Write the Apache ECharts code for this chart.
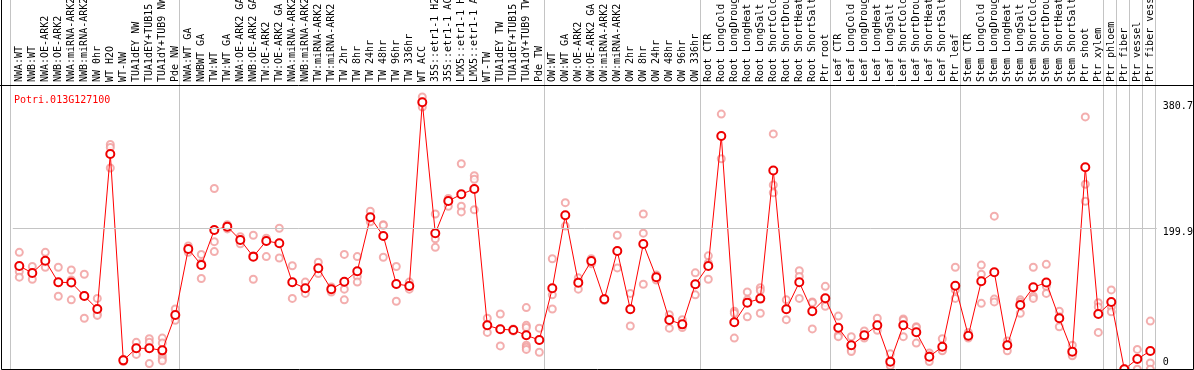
<!DOCTYPE html>
<html><head><meta charset="utf-8">
<script src="https://cdn.jsdelivr.net/npm/echarts@6/dist/echarts.min.js"></script>
<style>html,body{margin:0;padding:0;background:#fff}#c{width:1194px;height:370px}</style>
</head><body><div id="c"></div>
<script>
const geneName = 'Potri.013G127100';
const categories = [
 'NWA:WT','NWB:WT','NWA:OE-ARK2','NWB:OE-ARK2','NWA:miRNA-ARK2','NWB:miRNA-ARK2','NW 0hr','WT H2O','WT-NW','TUA1dEY NW','TUA1dEY+TUB15 NW','TUA1dY+TUB9 NW','Pde NW',
 'NWA:WT GA','NWBWT GA','TW:WT','TW:WT GA','NWA:OE-ARK2 GA','NWB:OE-ARK2 GA','TW:OE-ARK2','TW:OE-ARK2 GA','NWA:miRNA-ARK2','NWB:miRNA-ARK2','TW:miRNA-ARK2','TW:miRNA-ARK2',
 'TW 2hr','TW 8hr','TW 24hr','TW 48hr','TW 96hr','TW 336hr','WT ACC','35S::etr1-1 H2O','35S::etr1-1 ACC','LMX5::etr1-1 H2O','LMX5::etr1-1 ACC','WT-TW','TUA1dEY TW','TUA1dEY+TUB15 TW','TUA1dY+TUB9 TW','Pde TW',
 'OW:WT','OW:WT GA','OW:OE-ARK2','OW:OE-ARK2 GA','OW:miRNA-ARK2','OW:miRNA-ARK2','OW 2hr','OW 8hr','OW 24hr','OW 48hr','OW 96hr','OW 336hr',
 'Root CTR','Root LongCold','Root LongDrought','Root LongHeat','Root LongSalt','Root ShortCold','Root ShortDrought','Root ShortHeat','Root ShortSalt','Ptr root',
 'Leaf CTR','Leaf LongCold','Leaf LongDrought','Leaf LongHeat','Leaf LongSalt','Leaf ShortCold','Leaf ShortDrought','Leaf ShortHeat','Leaf ShortSalt','Ptr leaf',
 'Stem CTR','Stem LongCold','Stem LongDrought','Stem LongHeat','Stem LongSalt','Stem ShortCold','Stem ShortDrought','Stem ShortHeat','Stem ShortSalt','Ptr shoot','Ptr xylem',
 'Ptr phloem','Ptr fiber','Ptr vessel','Ptr fiber vessel'
];
// index of first category of each group (and the end)
const groupStarts = [0, 13, 41, 53, 63, 73, 84, 85, 86, 87, 88];
const meanValues = [
 146.7,136.9,154.2,123.7,123.3,104.4,86.1,304.7,13.6,30.6,30.6,27.7,77.6,
 170.7,148.1,197.5,202.2,183.4,159.9,182.0,178.7,123.7,115.2,143.5,113.9,
 124.6,139.4,215.4,189.1,121.3,118.5,377.6,192.8,238.4,247.8,255.4,63.0,57.4,56.4,48.9,42.3,
 115.2,218.3,123.2,153.8,99.7,167.8,85.6,177.8,130.8,70.5,64.4,120.9,
 146.7,330.1,67.3,95.0,100.7,281.5,85.6,123.7,82.8,101.1,
 59.7,34.8,48.9,63.0,11.8,63.0,53.2,18.8,32.9,118.9,
 48.4,125.1,137.8,34.8,91.7,116.7,123.3,72.9,25.9,285.9,79.0,
 95.9,1.0,15.5,26.8
];
const replicateValues = [
 [166,139,131],[146,137,128],[166,152,145],[145,123,104],[141,127,99],[135,105,73],[101,79,77],[318,314,285],[15,14,12],[39,31,22],[44,39,9],[45,38,27,20,16,13],[86,77,70],
 [175,171,166],[163,151,129],[256,181,167],[205,202,199],[188,184,178],[190,161,128],[186,182,160],[200,179,158],[147,124,101],[124,115,108],[152,143,136],[117,114,110],
 [163,114,99],[160,132,124],[224,213,209],[205,204,159],[146,121,97],[124,118,114],[385,378,371],[220,185,173],[242,238,231],[291,231,223],[274,269,226],[73,63,53],[79,58,34],[58,56,55],[88,63,60,35,32,29],[59,42,25],
 [157,106,86],[236,218,203],[130,124,114],[157,154,150],[101,100,98],[190,168,144],[108,86,62],[220,193,121],[134,131,127],[78,72,59],[71,64,60],[137,121,106],
 [161,151,128],[361,330,298],[83,80,45],[110,99,75],[116,112,80],[333,261,250],[99,86,71],[140,132,101],[96,95,58],[118,95,90],
 [76,49,47],[47,28,26],[55,48,45],[73,63,56],[23,8,6],[72,70,47],[61,60,38],[24,20,12],[44,28,27],[145,113,101],
 [53,48,45],[148,135,94],[217,100,96],[41,35,27],[99,96,80],[145,104,101],[149,118,108],[83,75,61],[35,22,20],[357,262,238],[95,89,53],
 [113,89,82],[2,1,0],[29,16,1],[69,10,1]
];
const yTickValues = [380.7, 199.9, 0];
const yTickLabels = ['380.7', '199.9', '0'];
const yMax = 402;

const FONT = 'DejaVu Sans Mono';
const repDataIdx = [];
replicateValues.forEach((arr, i) => arr.forEach(v => repDataIdx.push([i, v])));

const labelOffsets = [[0, 6], [0, 4], [0, -8]];
const markData = yTickValues.map((v, k) => ({
  yAxis: v,
  lineStyle: v === 199.9 ? {color: '#c4c4c4', width: 1, type: 'solid'} : {color: 'rgba(0,0,0,0)', width: 1},
  label: {show: true, position: 'end', distance: 6, offset: labelOffsets[k], formatter: yTickLabels[k],
          color: '#000', fontFamily: FONT, fontSize: 10, opacity: 1}
}));

const chart = echarts.init(document.getElementById('c'), null, {renderer: 'canvas'});
chart.setOption({
  animation: false,
  title: {text: geneName, left: 9, top: 90, textStyle: {color: '#ff0000', fontFamily: FONT, fontSize: 10, fontWeight: 'normal'}},
  grid: [
    {left: 10.3, top: 0, width: 1145.4, height: 370, containLabel: false, outerBoundsMode: 'none'},
    {left: 12.8, top: 85, width: 1144, height: 285, containLabel: false, outerBoundsMode: 'none'}
  ],
  xAxis: [
    {gridIndex: 0, type: 'category', data: categories.map((c, i) => i), boundaryGap: true,
     axisLine: {show: false}, axisTick: {show: false}, axisLabel: {show: false},
     splitLine: {show: true, interval: (i) => groupStarts.includes(i), lineStyle: {color: '#c4c4c4', width: 1}}},
    {gridIndex: 1, type: 'category', data: categories.map((c, i) => i), position: 'top', boundaryGap: true,
     axisLine: {show: false}, axisTick: {show: false}, splitLine: {show: false},
     axisLabel: {show: true, interval: 0, rotate: 90, margin: 3, color: '#000', fontFamily: FONT, fontSize: 10,
                 hideOverlap: false, formatter: (v) => categories[+v]}}
  ],
  yAxis: [
    {gridIndex: 0, type: 'value', min: 0, max: 1, show: false},
    {gridIndex: 1, type: 'value', min: 0, max: yMax, show: false}
  ],
  graphic: [
    {type: 'rect', shape: {x: 1.5, y: -5, width: 1192, height: 374.5}, style: {fill: null, stroke: '#000', lineWidth: 1}, silent: true, z: 100},
    {type: 'line', shape: {x1: 0, y1: 85.5, x2: 1194, y2: 85.5}, style: {stroke: '#000', lineWidth: 1}, silent: true, z: 100}
  ],
  series: [
    {type: 'scatter', xAxisIndex: 1, yAxisIndex: 1, data: repDataIdx, symbol: 'emptyCircle', symbolSize: 7,
     itemStyle: {color: '#f09a9a', borderWidth: 1.1}, z: 2, silent: true},
    {type: 'line', xAxisIndex: 1, yAxisIndex: 1, data: meanValues, symbol: 'emptyCircle', symbolSize: 8, showAllSymbol: true,
     lineStyle: {color: '#ff0000', width: 1}, itemStyle: {color: '#ee0000', borderWidth: 1.5}, z: 3, silent: true,
     markLine: {silent: true, symbol: 'none', data: markData, animation: false}}
  ]
});
</script></body></html>
